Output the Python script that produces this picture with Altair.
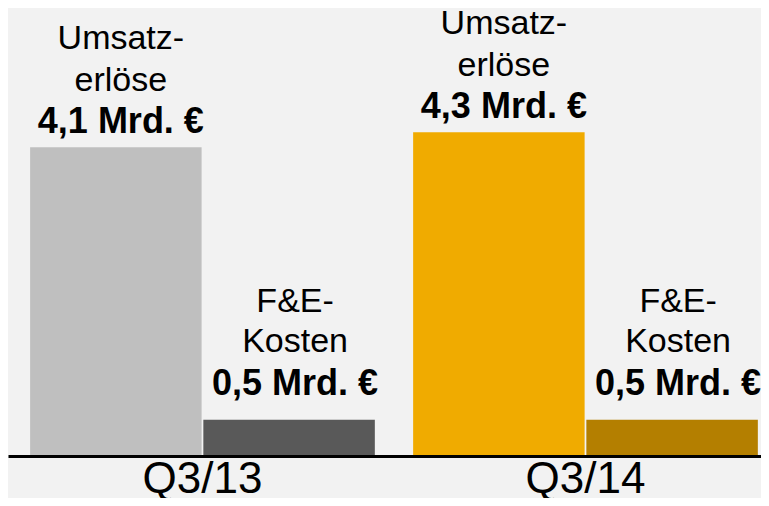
import altair as alt
import pandas as pd

quarters = ["Q3/13", "Q3/13", "Q3/14", "Q3/14"]
series = ["Umsatzerlöse", "F&E-Kosten", "Umsatzerlöse", "F&E-Kosten"]
values = [4.1, 0.48, 4.3, 0.48]
name_labels = ["Umsatz-\nerlöse", "F&E-\nKosten", "Umsatz-\nerlöse", "F&E-\nKosten"]
value_labels = ["4,1 Mrd. €", "0,5 Mrd. €", "4,3 Mrd. €", "0,5 Mrd. €"]
bar_colors = ["#bfbfbf", "#595959", "#f0ab00", "#b47f00"]
keys = [q + " " + s for q, s in zip(quarters, series)]

df = pd.DataFrame({
    "quarter": quarters,
    "series": series,
    "value": values,
    "name": name_labels,
    "label": value_labels,
    "key": keys,
})

FONT = "Liberation Sans"
series_order = ["Umsatzerlöse", "F&E-Kosten"]

base = alt.Chart(df).encode(
    x=alt.X(
        "quarter:N",
        sort=["Q3/13", "Q3/14"],
        scale=alt.Scale(paddingInner=0.1, paddingOuter=0.033, align=0.875),
        axis=alt.Axis(
            title=None, labelFontSize=44, labelFont=FONT, labelColor="black",
            domain=True, domainColor="black", domainWidth=3,
            ticks=False, tickSize=0, labelPadding=1, labelAngle=0, zindex=1,
        ),
    ),
    xOffset=alt.XOffset(
        "series:N", sort=series_order,
        scale=alt.Scale(paddingInner=0.01, paddingOuter=0),
    ),
    y=alt.Y("value:Q", scale=alt.Scale(domain=[0, 5.95]), axis=None),
)

bars = base.mark_bar().encode(
    color=alt.Color("key:N", scale=alt.Scale(domain=keys, range=bar_colors), legend=None)
)

umsatz = base.transform_filter(alt.datum.series == "Umsatzerlöse")
fe = base.transform_filter(alt.datum.series == "F&E-Kosten")

u_bold = umsatz.mark_text(
    font=FONT, fontSize=36, fontWeight="bold", color="black",
    baseline="alphabetic", dy=-14, dx=5,
).encode(text="label:N")
u_name = umsatz.mark_text(
    font=FONT, fontSize=34, color="black", lineBreak="\n", lineHeight=41.5,
    baseline="alphabetic", dy=-98, dx=5,
).encode(text="name:N")

f_bold = fe.mark_text(
    font=FONT, fontSize=36, fontWeight="bold", color="black",
    baseline="alphabetic", dy=-25, dx=6,
).encode(text="label:N")
f_name = fe.mark_text(
    font=FONT, fontSize=34, color="black", lineBreak="\n", lineHeight=40,
    baseline="alphabetic", dy=-108, dx=6,
).encode(text="name:N")

chart = alt.layer(bars, u_bold, u_name, f_bold, f_name).properties(
    width=753, height=448,
    padding={"left": 0, "top": 0, "right": 0, "bottom": 42},
    autosize=alt.AutoSizeParams(type="none"),
    background="#f2f2f2",
).configure_view(stroke=None)

chart.save("out.html", embed_options={"renderer": "svg", "actions": False})
